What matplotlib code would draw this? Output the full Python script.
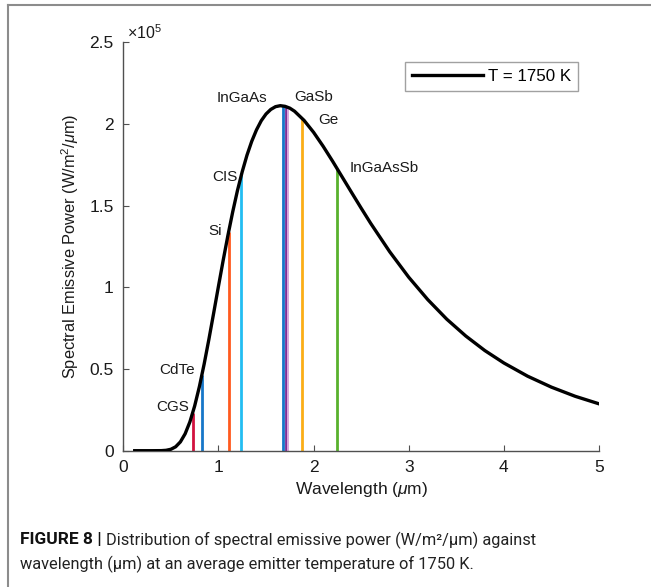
import matplotlib
matplotlib.use("Agg")
import matplotlib.pyplot as plt
from matplotlib.lines import Line2D

plt.rcParams['font.family'] = ['Liberation Sans', 'DejaVu Sans']
plt.rcParams['mathtext.fontset'] = 'custom'
plt.rcParams['mathtext.rm'] = 'Liberation Sans'
plt.rcParams['mathtext.it'] = 'Liberation Sans:italic'

# Blackbody spectral emissive power at T = 1750 K (units of 1e5 W/m^2/um)
wavelength = [0.12, 0.2, 0.3, 0.4, 0.45, 0.5, 0.55, 0.6, 0.65, 0.7, 0.75, 0.8,
              0.85, 0.9, 0.95, 1.0, 1.05, 1.1, 1.15, 1.2, 1.25, 1.3, 1.35,
              1.4, 1.45, 1.5, 1.55, 1.6, 1.65, 1.7, 1.75, 1.8, 1.9, 2.0, 2.1,
              2.2, 2.3, 2.4, 2.5, 2.6, 2.8, 3.0, 3.2, 3.4, 3.6, 3.8, 4.0,
              4.25, 4.5, 4.75, 5.0]
power = [0.0, 0.0, 0.0, 0.0004, 0.0024, 0.0087, 0.0239, 0.0539, 0.1036,
         0.1765, 0.2736, 0.393, 0.531, 0.683, 0.843, 1.006, 1.166, 1.319,
         1.462, 1.593, 1.708, 1.809, 1.894, 1.964, 2.020, 2.061, 2.089,
         2.106, 2.112, 2.108, 2.097, 2.078, 2.022, 1.949, 1.864, 1.772,
         1.676, 1.580, 1.485, 1.392, 1.218, 1.062, 0.925, 0.805, 0.702,
         0.613, 0.537, 0.456, 0.389, 0.333, 0.287]

# Band-gap wavelengths of the PV cell materials and the curve value there
materials = ['CGS', 'CdTe', 'Si', 'CIS', 'InGaAs', 'GaSb', '', 'Ge', 'InGaAsSb']
gap_wavelength = [0.73, 0.827, 1.107, 1.24, 1.68, 1.71, 1.73, 1.88, 2.25]
gap_power = [0.232, 0.465, 1.340, 1.687, 2.111, 2.108, 2.103, 2.035, 1.724]
gap_colors = ['#d2123f', '#1677c9', '#ff5a1e', '#22bdf2', '#1677c9',
              '#7d2f95', '#dca6de', '#fbae17', '#58b12d']
gap_widths = [2.0, 2.0, 2.0, 2.0, 2.0, 2.0, 1.4, 2.0, 2.0]

# label anchor (x, y, horizontal alignment) in data units
label_pos = [(0.69, 0.267, 'right'), (0.755, 0.494, 'right'),
             (1.04, 1.345, 'right'), (1.197, 1.675, 'right'),
             (1.515, 2.158, 'right'), (1.80, 2.165, 'left'), None,
             (2.05, 2.024, 'left'), (2.375, 1.730, 'left')]

xticks = [0, 1, 2, 3, 4, 5]
yticks = [0, 0.5, 1, 1.5, 2, 2.5]
ytick_labels = ['0', '0.5', '1', '1.5', '2', '2.5']

W, H = 651, 587
fig = plt.figure(figsize=(W / 100, H / 100), dpi=100)
ax = fig.add_axes([123.3 / W, 1 - 450.7 / H, (599 - 123.3) / W, (450.7 - 42.3) / H])

for xw, yp, c, lw in zip(gap_wavelength, gap_power, gap_colors, gap_widths):
    ax.plot([xw, xw], [0, yp], color=c, lw=lw, solid_capstyle='butt', zorder=2)

ax.plot(wavelength, power, color='black', lw=2.4, zorder=3, label='T = 1750 K')

for name, pos in zip(materials, label_pos):
    if pos is None:
        continue
    ax.text(pos[0], pos[1], name, ha=pos[2], va='center', fontsize=11,
            color='#1a1a1a', zorder=4)

ax.set_xlim(0, 5)
ax.set_ylim(0, 2.5)
ax.set_xticks(xticks)
ax.set_yticks(yticks)
ax.set_yticklabels(ytick_labels)
for s in ('top', 'right'):
    ax.spines[s].set_visible(False)
for s in ('left', 'bottom'):
    ax.spines[s].set_color('#505050')
    ax.spines[s].set_linewidth(1.0)
ax.tick_params(direction='in', length=4, width=0.8, color='#505050',
               labelsize=12.5, labelcolor='#1a1a1a', pad=7)

ax.text(0.008, 1.0, r'$\times10^5$', transform=ax.transAxes, fontsize=11.5,
        ha='left', va='bottom', color='#1a1a1a')

ax.set_xlabel(r'Wavelength ($\mu$m)', fontsize=12.5, color='#1a1a1a', labelpad=3)
ax.set_ylabel(r'Spectral Emissive Power (W/m$^2$/$\mu$m)', fontsize=11.8,
              color='#1a1a1a', labelpad=6)

leg = ax.legend(loc='upper right', bbox_to_anchor=(578 / W, 1 - 62 / H),
                bbox_transform=fig.transFigure, fontsize=12.2, frameon=True,
                fancybox=False, handlelength=4.2, handletextpad=0.3,
                borderpad=0.4, borderaxespad=0)
leg.get_frame().set_edgecolor('#8a8a8a')
leg.get_frame().set_linewidth(1.0)

# figure frame lines (top and left)
fig.add_artist(Line2D([8 / W, 1], [1 - 5 / H, 1 - 5 / H], transform=fig.transFigure,
                      color='#8c8c8c', lw=1.5))
fig.add_artist(Line2D([8 / W, 8 / W], [0, 1 - 5 / H], transform=fig.transFigure,
                      color='#8c8c8c', lw=1.5))

# caption below the plot
cap_font = ['Roboto', 'Liberation Sans', 'DejaVu Sans']
cap_size = 11.8
head = fig.text(20 / W, 1 - 540 / H, 'FIGURE 8 |', fontsize=12.5,
                fontweight='bold', family=cap_font, va='center', ha='left',
                color='#111111')
fig.canvas.draw()
head_end = head.get_window_extent().x1
fig.text((head_end + 4) / W, 1 - 540 / H,
         'Distribution of spectral emissive power (W/m²/μm) against',
         fontsize=cap_size, family=cap_font, va='center', ha='left', color='#222222')
fig.text(20 / W, 1 - 564 / H,
         'wavelength (μm) at an average emitter temperature of 1750 K.',
         fontsize=cap_size, family=cap_font, va='center', ha='left', color='#222222')

fig.savefig('out.png', dpi=100)
